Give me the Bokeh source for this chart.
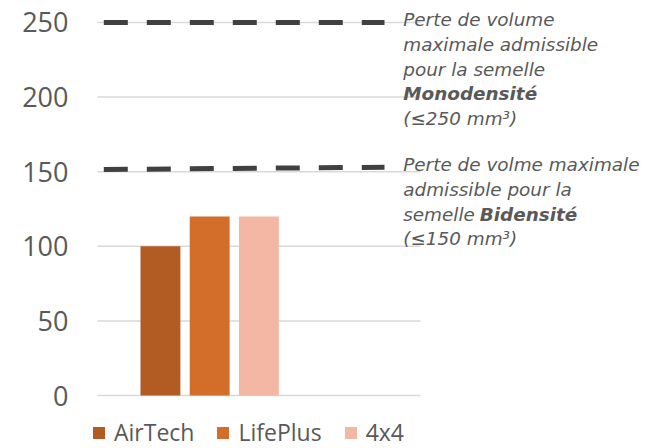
from bokeh.plotting import figure
from bokeh.models import Range1d, FixedTicker, Legend, LegendItem, Label
from bokeh.embed import file_html
from bokeh.resources import INLINE

# ---- data ----
products = ["AirTech", "LifePlus", "4x4"]
positions = [0, 1, 2]
values = [100, 120, 120]
colors = ["#B25B22", "#D26D2A", "#F4B7A3"]

limit_x = [-1.15, 4.55]
limit_mono = [250, 250]
limit_bi = [151.5, 153]

y_ticks = [0, 50, 100, 150, 200, 250]

mono_lines = ["Perte de volume", "maximale admissible", "pour la semelle", "Monodensité", "(≤250 mm³)"]
bi_lines = ["Perte de volme maximale", "admissible pour la", "semelle ", "(≤150 mm³)"]
bi_bold = "Bidensité"

TXT = "#595959"
FONT = "Open Sans"
NOTE_FONT = "DejaVu Sans"

GRID_X = (-1.28, 5.28)

p = figure(width=646, height=448, output_backend="svg", toolbar_location=None,
           x_range=Range1d(-1.42, 9.87), y_range=Range1d(-35.5, 256.7),
           min_border_left=90, min_border_right=0, min_border_top=12, min_border_bottom=0)
p.outline_line_color = None
p.xaxis.visible = False
p.xgrid.grid_line_color = None
p.ygrid.grid_line_color = None
p.yaxis.ticker = FixedTicker(ticks=y_ticks)
p.yaxis.axis_line_color = None
p.yaxis.major_tick_line_color = None
p.yaxis.minor_tick_line_color = None
p.yaxis.major_label_text_font = FONT
p.yaxis.major_label_text_font_size = "27px"
p.yaxis.major_label_text_color = TXT
p.yaxis.major_label_standoff = 16

# grid lines limited to the chart area
p.segment(x0=[GRID_X[0]] * len(y_ticks), x1=[GRID_X[1]] * len(y_ticks), y0=y_ticks, y1=y_ticks,
          line_color="#D9D9D9", line_width=1.5)

items = []
for i in range(3):
    r = p.vbar(x=[positions[i]], top=[values[i]], width=0.81, bottom=0,
               fill_color=colors[i], line_color=None)
    items.append(LegendItem(label=products[i], renderers=[r]))

p.line(limit_x, limit_mono, line_color="#404040", line_width=5, line_dash="24 19")
p.line(limit_x, limit_bi, line_color="#404040", line_width=5, line_dash="24 19")

lab_x = 4.93
LS = 24.8
FS = "18.4px"
for i, t in enumerate(mono_lines):
    p.add_layout(Label(x=lab_x, y=limit_mono[1], y_offset=3 - LS * i, text=t,
                       text_font=NOTE_FONT, text_font_size=FS,
                       text_font_style="bold italic" if i == 3 else "italic",
                       text_color=TXT, text_baseline="middle"))
for i, t in enumerate(bi_lines):
    p.add_layout(Label(x=lab_x, y=limit_bi[0], y_offset=5 - LS * i, text=t,
                       text_font=NOTE_FONT, text_font_size=FS, text_font_style="italic",
                       text_color=TXT, text_baseline="middle"))
p.add_layout(Label(x=lab_x, y=limit_bi[0], x_offset=76.5, y_offset=5 - LS * 2, text=bi_bold,
                   text_font=NOTE_FONT, text_font_size=FS, text_font_style="bold italic",
                   text_color=TXT, text_baseline="middle"))

legend = Legend(items=items, orientation="horizontal", location=(1, 0),
                label_text_font=FONT, label_text_font_size="23px", label_text_color=TXT,
                glyph_width=15, glyph_height=15, label_standoff=8, spacing=21,
                padding=0, margin=0, border_line_color=None, background_fill_alpha=0)
p.add_layout(legend, "center")

open("out.html", "w").write(file_html(p, INLINE))
